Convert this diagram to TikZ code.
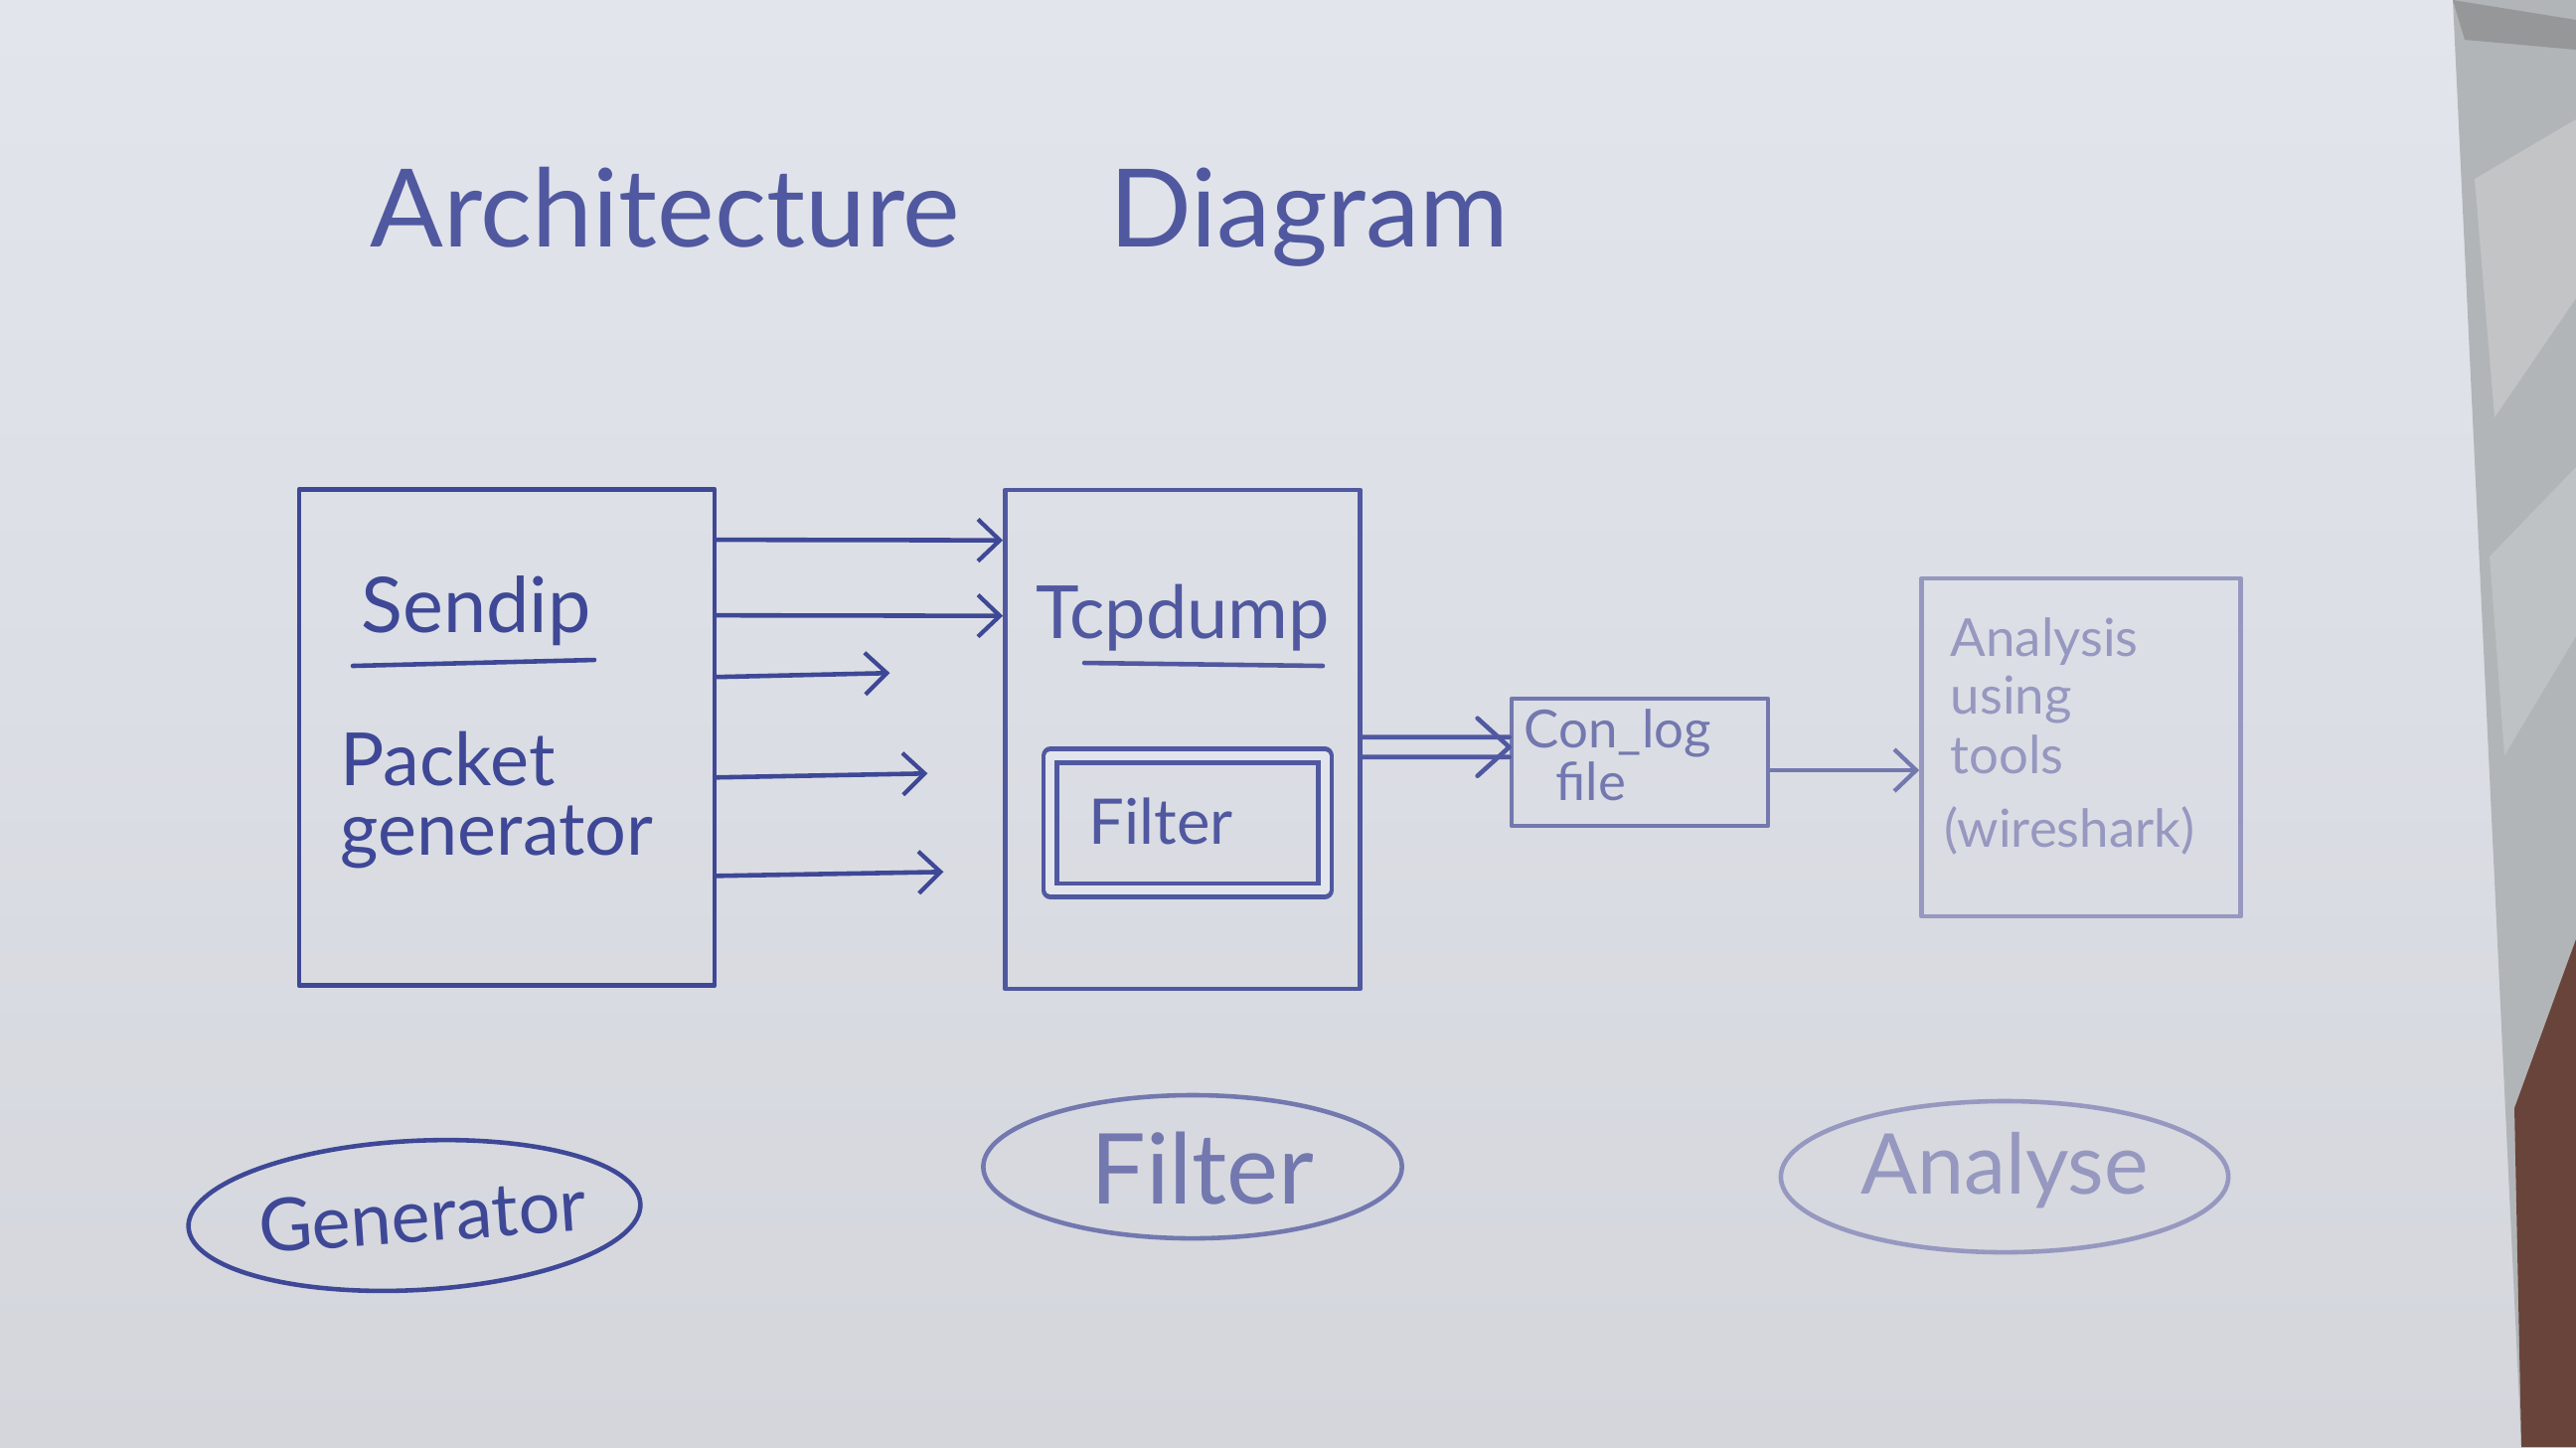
\documentclass[tikz,border=0pt]{standalone}
\usepackage{fontspec}
\setmainfont{Lato}
\usetikzlibrary{arrows.meta,shapes.geometric,calc}
\definecolor{paper}{RGB}{226,229,236}
\definecolor{paperlow}{RGB}{212,214,220}
\definecolor{inkA}{RGB}{62,72,150}
\definecolor{inkB}{RGB}{80,88,160}
\definecolor{inkC}{RGB}{115,120,175}
\definecolor{inkD}{RGB}{150,152,192}
\definecolor{fabric}{RGB}{178,181,184}
\definecolor{fabriclt}{RGB}{205,207,208}
\definecolor{woodbr}{RGB}{105,68,58}
\tikzset{
  pen/.style={line width=1.3pt, line cap=round, line join=round},
  box/.style={pen, draw, rectangle, inner sep=0pt},
  bubble/.style={pen, draw, ellipse, inner sep=0pt},
  barb/.style={-{Straight Barb[length=0.22cm,width=0.42cm,line width=1.2pt]}},
  hand/.style={inner sep=0pt, anchor=base west},
}
\begin{document}
\begin{tikzpicture}[x=0.01cm,y=-0.01cm]
% background paper and surroundings
\useasboundingbox (0,0) rectangle (2592,1456);
\shade[top color=paper, bottom color=paperlow] (0,0) rectangle (2592,1456);
\fill[fabric] (2468,0) -- (2592,0) -- (2592,1456) -- (2537,1456) -- cycle;
\fill[fabriclt, opacity=0.6] (2490,180) -- (2592,120) -- (2592,300) -- (2510,420) -- cycle;
\fill[fabriclt, opacity=0.5] (2505,560) -- (2592,470) -- (2592,640) -- (2520,760) -- cycle;
\fill[black!55, opacity=0.45] (2468,0) -- (2592,20) -- (2592,50) -- (2480,40) -- cycle;
\fill[woodbr] (2530,1115) -- (2592,945) -- (2592,1456) -- (2537,1456) -- cycle;

% title
\node[hand, text=inkB, font=\fontsize{31}{36}\selectfont] (title1) at (372,248) {Architecture};
\node[hand, text=inkB, font=\fontsize{31}{36}\selectfont] (title2) at (1116,248) {Diagram};

% generator box
\node[box, draw=inkA, minimum width=4.18cm, minimum height=4.99cm] (gen) at (510,742) {};
\node[text=inkA, font=\fontsize{22}{26}\selectfont, inner sep=0pt] (sendip) at (479,615) {Sendip};
\draw[pen, inkA] (355,670) -- (598,664);
\node[hand, text=inkA, font=\fontsize{21}{26}\selectfont] (packet) at (342,790) {Packet};
\node[hand, text=inkA, font=\fontsize{21}{26}\selectfont] (pgen) at (342,860) {generator};

% tcpdump box
\node[box, draw=inkB, minimum width=3.57cm, minimum height=5.02cm] (tcp) at (1190,744) {};
\node[text=inkB, font=\fontsize{21}{26}\selectfont, inner sep=0pt] (tcpd) at (1190,622) {Tcpdump};
\draw[pen, inkB] (1091,667) -- (1331,670);
\node[box, draw=inkB, double=paper, double distance=0.09cm, minimum width=2.76cm, minimum height=1.35cm] (filt) at (1195,828) {};
\node[text=inkB, font=\fontsize{18}{22}\selectfont, inner sep=0pt] (filttxt) at (1168,826) {Filter};

% arrows generator -> tcpdump
\draw[pen, inkA, barb] ([yshift=-0.53cm]gen.north east) -- ([yshift=-0.53cm]tcp.north west);
\draw[pen, inkA, barb] ([yshift=-1.29cm]gen.north east) -- ([yshift=-1.29cm]tcp.north west);
\draw[pen, inkA, barb] ([yshift=-1.91cm]gen.north east) -- ++(174,-4);
\draw[pen, inkA, barb] ([yshift=-2.92cm]gen.north east) -- ++(212,-4);
\draw[pen, inkA, barb] ([yshift=-3.91cm]gen.north east) -- ++(228,-4);

% con_log box
\node[box, draw=inkC, minimum width=2.58cm, minimum height=1.28cm] (conlog) at (1650,767) {};
\node[hand, text=inkC, font=\fontsize{15}{18}\selectfont] (cl1) at (1533,752) {Con\_log};
\node[hand, text=inkC, font=\fontsize{15}{18}\selectfont] (cl2) at (1565,805) {file};

% double arrow tcpdump -> con_log
\draw[pen, inkB] ([yshift=-2.51cm]tcp.north east) -- ([yshift=-0.41cm]conlog.north west);
\draw[pen, inkB] ([yshift=-2.71cm]tcp.north east) -- ([yshift=-0.61cm]conlog.north west);
\draw[pen, inkB] ([xshift=-0.32cm,yshift=-0.22cm]conlog.north west) -- ([yshift=-0.51cm]conlog.north west) -- ([xshift=-0.32cm,yshift=-0.80cm]conlog.north west);

% analysis box
\node[box, draw=inkD, minimum width=3.21cm, minimum height=3.40cm] (ana) at (2094,752) {};
\node[hand, text=inkD, font=\fontsize{15}{18}\selectfont] (a1) at (1962,660) {Analysis};
\node[hand, text=inkD, font=\fontsize{15}{18}\selectfont] (a2) at (1962,718) {using};
\node[hand, text=inkD, font=\fontsize{15}{18}\selectfont] (a3) at (1962,778) {tools};
\node[hand, text=inkD, font=\fontsize{15}{18}\selectfont] (a4) at (1956,852) {(wireshark)};
\draw[pen, inkC, barb] ([yshift=-0.08cm]conlog.east) -- ([yshift=-0.08cm]conlog.east -| ana.west);

% bottom labels
\node[bubble, draw=inkA, minimum width=4.55cm, minimum height=1.50cm, rotate=3] (bgen) at (417,1223) {};
\node[text=inkA, font=\fontsize{21}{26}\selectfont, rotate=4, inner sep=0pt] (bgent) at (425,1223) {Generator};
\node[bubble, draw=inkC, minimum width=4.21cm, minimum height=1.44cm] (bfil) at (1200,1174) {};
\node[text=inkC, font=\fontsize{28}{32}\selectfont, inner sep=0pt] (bfilt) at (1210,1176) {Filter};
\node[bubble, draw=inkD, minimum width=4.50cm, minimum height=1.52cm] (bana) at (2017,1184) {};
\node[text=inkD, font=\fontsize{24}{28}\selectfont, inner sep=0pt] (banat) at (2017,1178) {Analyse};
\end{tikzpicture}
\end{document}
